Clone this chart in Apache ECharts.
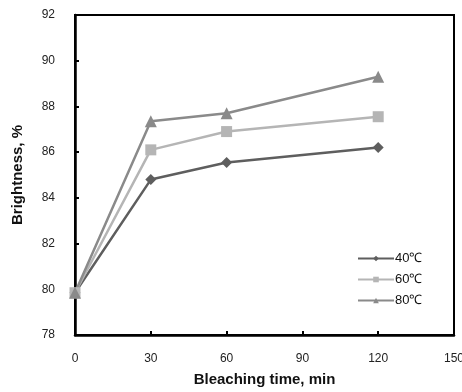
<!DOCTYPE html>
<html>
<head>
<meta charset="utf-8">
<script src="https://cdn.jsdelivr.net/npm/echarts@6/dist/echarts.min.js"></script>
<style>
  html, body { margin: 0; padding: 0; background: #fff; }
  #chart { width: 462px; height: 392px; }
</style>
</head>
<body>
<div id="chart"></div>
<script>
const times = [0, 30, 60, 120]
const temp40 = [79.85, 84.8, 85.55, 86.2]
const temp60 = [79.85, 86.1, 86.9, 87.55]
const temp80 = [79.85, 87.35, 87.7, 89.3]
const seriesNames = ['40\u2103', '60\u2103', '80\u2103']

const pairs = (ys) => times.map((t, i) => [t, ys[i]])

const font = 'Liberation Sans, Arial, sans-serif'

const chart = echarts.init(document.getElementById('chart'), null, { renderer: 'canvas' })

const lineSeries = (name, ys, color, symbol, size) => ({
    name,
    type: 'line',
    data: pairs(ys),
    symbol,
    symbolSize: size,
    itemStyle: { color },
    lineStyle: { color, width: 2.5 },
    emphasis: { disabled: true },
    animation: false,
})

chart.setOption({
    animation: false,
    grid: {
        left: 75, right: 8, top: 15, bottom: 57,
        outerBoundsMode: 'none',
        show: true, borderColor: '#000', borderWidth: 2,
    },
    xAxis: {
        type: 'value',
        min: 0,
        max: 150,
        interval: 30,
        name: 'Bleaching time, min',
        nameLocation: 'middle',
        nameGap: 37,
        nameTextStyle: { fontFamily: font, fontWeight: 'bold', fontSize: 15, color: '#111' },
        axisLine: { lineStyle: { color: '#000', width: 2.5 } },
        axisTick: { inside: true, length: 4, lineStyle: { color: '#000', width: 2 } },
        axisLabel: { fontFamily: font, fontSize: 12, color: '#222', margin: 18 },
        splitLine: { show: false },
    },
    yAxis: {
        type: 'value',
        min: 78,
        max: 92,
        interval: 2,
        name: 'Brightness, %',
        nameLocation: 'middle',
        nameGap: 50,
        nameTextStyle: { fontFamily: font, fontWeight: 'bold', fontSize: 15, color: '#111' },
        axisLine: { lineStyle: { color: '#000', width: 2.5 } },
        axisTick: { inside: true, length: 4, lineStyle: { color: '#000', width: 2 } },
        axisLabel: { fontFamily: font, fontSize: 12, color: '#222', margin: 20 },
        splitLine: { show: false },
    },
    legend: {
        orient: 'vertical',
        left: 352,
        top: 247,
        itemWidth: 36,
        itemHeight: 7,
        itemGap: 8,
        textStyle: { fontFamily: font, fontSize: 13, color: '#111', padding: [0, 0, 0, -4] },
        data: seriesNames,
    },
    series: [
        lineSeries(seriesNames[0], temp40, '#5e5e5e', 'diamond', 11),
        lineSeries(seriesNames[1], temp60, '#b5b5b5', 'rect', 11),
        lineSeries(seriesNames[2], temp80, '#8a8a8a', 'triangle', 12),
    ],
})
</script>
</body>
</html>
